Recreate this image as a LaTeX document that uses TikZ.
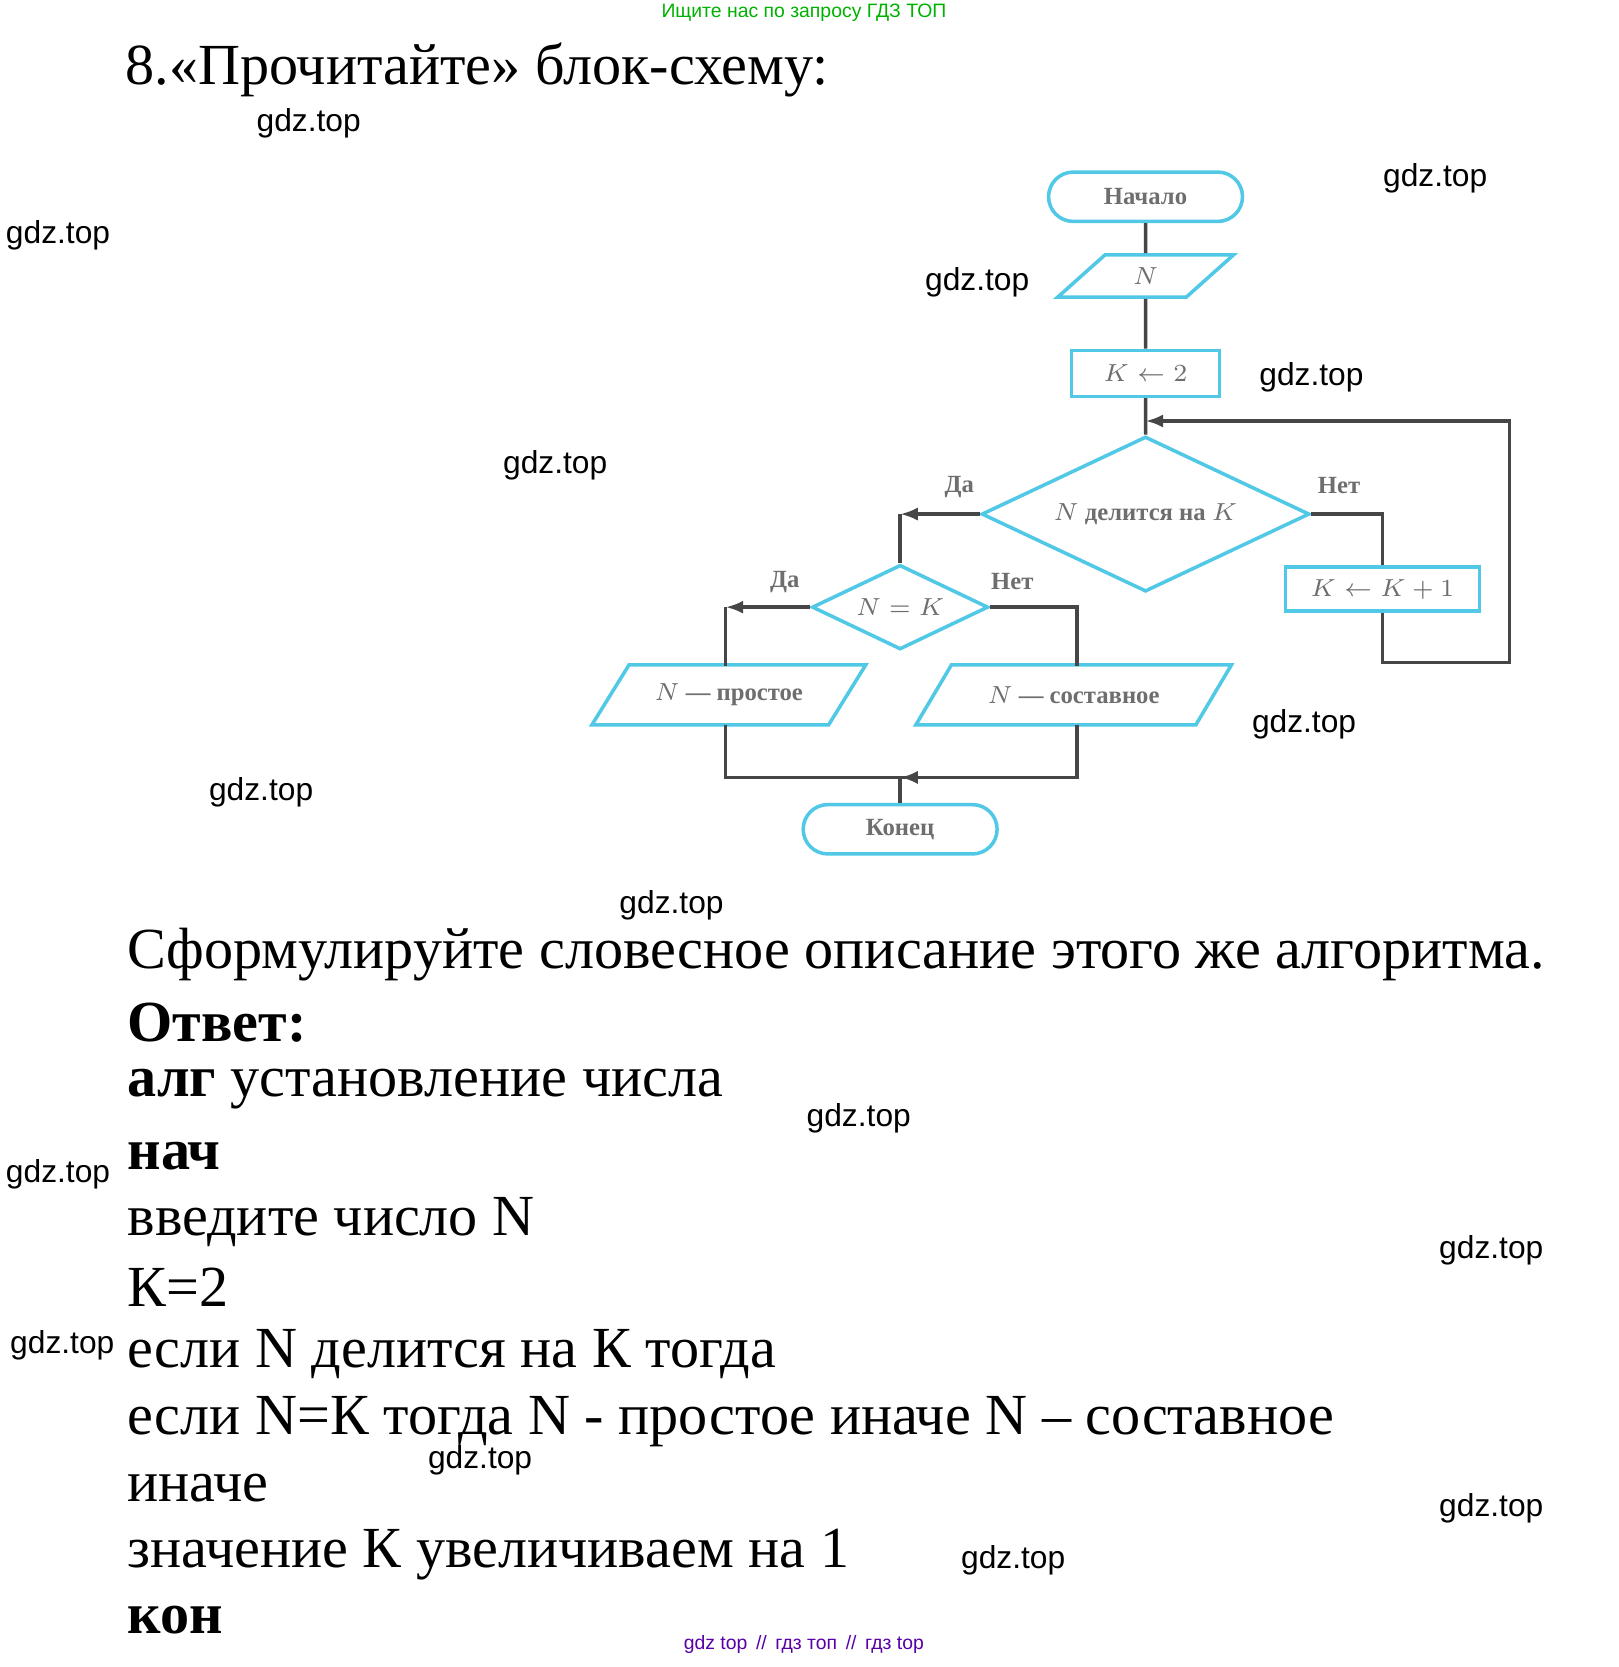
\documentclass[tikz,border=0pt]{standalone}
\usepackage{fontspec}
\setmainfont{Liberation Serif}
\newfontfamily\wmfont{Liberation Sans}
\usetikzlibrary{shapes.geometric,arrows.meta}
\definecolor{blk}{RGB}{80,200,230}
\definecolor{lnk}{RGB}{70,70,70}
\definecolor{dtx}{RGB}{110,110,110}
\tikzset{
  term/.style={rectangle,rounded corners=7pt,draw=blk,line width=1pt,minimum width=55pt,minimum height=14pt,text=dtx,font=\fontsize{7}{8}\selectfont\bfseries},
  io/.style={trapezium,trapezium left angle=55,trapezium right angle=125,trapezium stretches=true,draw=blk,line width=1pt,text=dtx,font=\fontsize{7}{8}\selectfont\bfseries},
  act/.style={rectangle,draw=blk,line width=1pt,text=dtx,font=\fontsize{7}{8}\selectfont\bfseries},
  cond/.style={diamond,aspect=2.1,draw=blk,line width=1pt,inner sep=1pt,text=dtx,font=\fontsize{7}{8}\selectfont\bfseries},
  lab/.style={text=dtx,font=\fontsize{7}{8}\selectfont\bfseries},
  link/.style={draw=lnk,line width=1pt},
  wm/.style={anchor=west,font=\wmfont\fontsize{9}{10}\selectfont,inner sep=0pt},
  txt/.style={anchor=west,font=\fontsize{16.5}{18}\selectfont,inner sep=0pt},
}
\begin{document}
\begin{tikzpicture}[x=0.3pt,y=-0.3pt]
\useasboundingbox[fill=white] (0,0) rectangle (1530,1576);
% header and title
\node[font=\wmfont\fontsize{5.5}{6}\selectfont,text=green!70!black] (top) at (760,12) {Ищите нас по запросу ГДЗ ТОП};
\node[txt] (title) at (118,66) {8.«Прочитайте» блок-схему:};
% flowchart
\node[term] (start) at (1083,186) {Начало};
\node[io,minimum width=50pt,minimum height=12pt] (inN) at (1083,261) {$N$};
\node[act,minimum width=42pt,minimum height=13pt] (k2) at (1083,353) {$K\leftarrow 2$};
\node[cond,minimum width=93pt,minimum height=44pt] (div) at (1083,486) {$N$ делится на $K$};
\node[act,minimum width=55pt,minimum height=12.5pt] (inc) at (1307,557) {$K\leftarrow K+1$};
\node[cond,minimum width=50pt,minimum height=24pt] (eq) at (851,574) {$N=K$};
\node[io,minimum width=78pt,minimum height=17pt] (prime) at (689,657) {$N$ — простое};
\node[io,minimum width=90pt,minimum height=17pt] (comp) at (1015,657) {$N$ — составное};
\node[term] (stop) at (851,784) {Конец};
\coordinate (loop) at (1083,398);
\coordinate (merge) at (851,735);
\path[link] (start) -- (inN) -- (k2) -- (div);
\path[link,-{Latex[length=5pt]}] (inc.south) -- ++(0,47) -| (1427,398) -- (loop);
\path[link,-{Latex[length=5pt]}] (div.west) -- (851,486);
\path[link] (851,486) -- (eq.north);
\path[link] (div.east) -| (inc.north);
\path[link,-{Latex[length=5pt]}] (eq.west) -- (686,574);
\path[link] (686,574) -- (686,630);
\path[link] (eq.east) -| (1018,630);
\path[link] (686,685) |- (1018,735) -- (1018,685);
\path[link,-{Latex[length=5pt]}] (1018,735) -- (merge);
\path[link] (merge) -- (stop.north);
\node[lab] (yes1) at (907,460) {Да};
\node[lab] (no1) at (1266,459) {Нет};
\node[lab] (yes2) at (742,550) {Да};
\node[lab] (no2) at (957,550) {Нет};
% answer
\node[txt] (l1) at (120,902) {Сформулируйте словесное описание этого же алгоритма.};
\node[txt] (l2) at (120,967) {\textbf{Ответ:}};
\node[txt] (l3) at (120,1030) {\textbf{алг} установление числа};
\node[txt] (l4) at (120,1093) {\textbf{нач}};
\node[txt] (l5) at (120,1155) {введите число N};
\node[txt] (l6) at (120,1217) {К=2};
\node[txt] (l7) at (120,1280) {если N делится на К тогда};
\node[txt] (l8) at (120,1344) {если N=К тогда N - простое иначе N – составное};
\node[txt] (l9) at (120,1407) {иначе};
\node[txt] (l10) at (120,1470) {значение К увеличиваем на 1};
\node[txt] (l11) at (120,1532) {\textbf{кон}};
% watermarks
\foreach \px/\py [count=\i] in {242/117,1307/169,5/222,874/267,1190/357,475/440,1183/685,197/749,585/856,762/1057,5/1110,1360/1182,9/1272,404/1381,1360/1426,908/1475}
  \node[wm] (wm\i) at (\px,\py) {gdz.top};
\node[font=\wmfont\fontsize{5.5}{6}\selectfont,text=violet!70!blue] (bot) at (760,1555) {gdz top \,//\, гдз топ \,//\, гдз top};
\end{tikzpicture}
\end{document}
